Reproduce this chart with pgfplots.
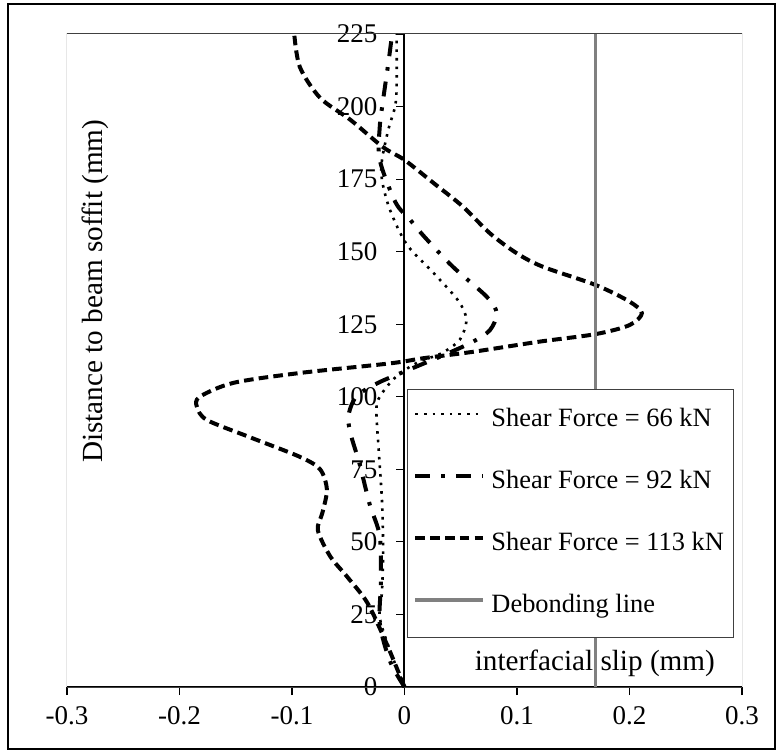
\documentclass[border=0pt]{standalone}
\usepackage{fontspec}
\setmainfont{Liberation Serif}
\usepackage{pgfplots}
\pgfplotsset{compat=1.18}
\begin{document}
\fontsize{13.2}{15.8}\selectfont
\begin{tikzpicture}
\useasboundingbox (-33.5pt,-32pt) rectangle (355.5pt,343.5pt);
\draw[black, line width=0.6pt] (-29.5pt,-31pt) rectangle (354pt,341.5pt);
\begin{axis}[
  at={(0,0)}, anchor=south west,
  scale only axis, width=337.5pt, height=326.5pt,
  xmin=-0.3, xmax=0.3, ymin=0, ymax=225,
  axis x line*=bottom, axis y line*=middle,
  axis line style={-, line width=1pt, black},
  hide obscured x ticks=false, hide obscured y ticks=false,
  xtick={-0.3,-0.2,-0.1,0,0.1,0.2,0.3},
  xticklabels={-0.3,-0.2,-0.1,0,0.1,0.2,0.3},
  ytick={0,25,50,75,100,125,150,175,200,225},
  yticklabels={0,25,50,75,100,125,150,175,200,225},
  tick align=outside, major tick length=4pt,
  tick style={black, line width=0.6pt},
  minor tick num=0,
  ticklabel style={font=\fontsize{13.5}{16}\selectfont},
  yticklabel style={xshift=-5pt},
  xticklabel style={yshift=-1pt},
  legend style={at={(axis description cs:0.5037,0.4564)}, anchor=north west,
    draw=black!75, line width=0.5pt, fill=white,
    inner xsep=3pt, inner ysep=7.25pt, row sep=14.5pt, column sep=1pt,
    nodes={inner sep=2pt, text height=9.5pt, text depth=3pt},
    font=\fontsize{13.2}{15.8}\selectfont},
  legend cell align=left,
  legend image code/.code={\draw[#1] (0pt,3.2pt) -- (34pt,3.2pt);},
]
\draw[black!75, line width=0.5pt] (rel axis cs:0,0) rectangle (rel axis cs:1,1);

\addplot[black, line width=1.3pt, dash pattern=on 1.3pt off 3pt, smooth, tension=0.5] coordinates {
(0,0) (-0.013,12.7) (-0.022,24) (-0.020,33) (-0.019,47) (-0.020,64) (-0.023,82)
(-0.025,95.5) (-0.022,100) (-0.010,106) (0.005,110.4) (0.017,112.7) (0.033,115)
(0.049,119.6) (0.055,126.5) (0.048,133) (0.026,142.6) (0.002,152.5) (-0.013,164.5)
(-0.020,174.7) (-0.020,181.6) (-0.0144,192) (-0.0084,200) (-0.007,207) (-0.007,225)
};
\addlegendentry{Shear Force = 66 kN}

\addplot[black, line width=2pt, dash pattern=on 7.5pt off 5.5pt on 1.8pt off 5.5pt, smooth, tension=0.5] coordinates {
(0,0) (-0.013,9) (-0.022,22) (-0.021,36) (-0.022,52) (-0.031,63) (-0.040,77)
(-0.047,86) (-0.050,93) (-0.043,100) (-0.024,104.7) (0.005,109.5) (0.037,114.7)
(0.061,119) (0.076,123) (0.082,128.8) (0.073,134.5) (0.043,144.8) (0.018,155)
(0.005,161) (-0.008,167) (-0.022,181.6) (-0.022,193) (-0.019,202.3) (-0.014,216) (-0.011,225)
};
\addlegendentry{Shear Force = 92 kN}

\addplot[black, line width=2pt, dash pattern=on 4.8pt off 2.6pt, smooth, tension=0.5] coordinates {
(0,0) (-0.016,15) (-0.033,29) (-0.051,38) (-0.066,45) (-0.077,54) (-0.073,60)
(-0.069,68) (-0.075,75) (-0.093,79.3) (-0.137,86) (-0.1756,92) (-0.1845,96.5)
(-0.182,100) (-0.152,104.8) (-0.093,108.2) (-0.013,111.5) (0.017,113.3) (0.061,115.5)
(0.120,119) (0.170,121.6) (0.200,124.7) (0.211,128.8) (0.200,132.8) (0.170,138.5)
(0.123,144.8) (0.100,149.4) (0.076,156.3) (0.052,165.5) (0.026,173.6) (0,181.6)
(-0.019,186) (-0.048,195.4) (-0.075,203) (-0.093,213.6) (-0.098,225)
};
\addlegendentry{Shear Force = 113 kN}

\addplot[gray, line width=1.6pt] coordinates {(0.17,0) (0.17,225)};
\addlegendentry{Debonding line}

\node[rotate=90, anchor=center, font=\fontsize{14.6}{17}\selectfont] at (axis description cs:0.0415,0.606) {Distance to beam soffit (mm)};
\node[anchor=center, font=\fontsize{14.6}{17}\selectfont] at (axis description cs:0.782,0.0368) {interfacial slip (mm)};
\end{axis}
\end{tikzpicture}
\end{document}
